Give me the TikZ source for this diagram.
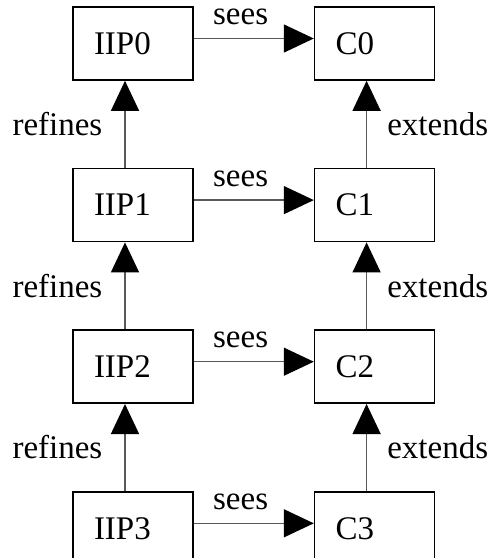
\documentclass[tikz,border=0pt]{standalone}
\usepackage{fontspec}
\setmainfont{Liberation Serif}
\usetikzlibrary{positioning,arrows.meta}

\begin{document}
\begin{tikzpicture}
  [
    x=1pt,y=1pt,
    font=\fontsize{33}{38}\selectfont,
    box/.style={draw, line width=1.6pt, text width=78pt, align=left, inner xsep=21pt, inner ysep=0pt, minimum height=73pt},
    rel/.style={line width=1.4pt, black!65, -{Triangle[length=30pt,width=28pt,black]}},
    lab/.style={inner sep=0pt, text=black},
    node distance=87pt and 120pt
  ]
  \useasboundingbox (0,0) rectangle (488,-558);

  % left column
  \node[box] at (133,-43.5) (iip0) {IIP0};
  \node[box,below=of iip0] (iip1) {IIP1};
  \node[box,below=of iip1] (iip2) {IIP2};
  \node[box,below=of iip2] (iip3) {IIP3};

  % right column
  \node[box,right=of iip0] (c0) {C0};
  \node[box,right=of iip1] (c1) {C1};
  \node[box,right=of iip2] (c2) {C2};
  \node[box,right=of iip3] (c3) {C3};

  % sees
  \draw[rel] ([yshift=5pt]iip0.east) -- node[lab,above=13pt,pos=0.39] {sees} ([yshift=5pt]c0.west);
  \draw[rel] ([yshift=5pt]iip1.east) -- node[lab,above=13pt,pos=0.39] {sees} ([yshift=5pt]c1.west);
  \draw[rel] ([yshift=5pt]iip2.east) -- node[lab,above=13pt,pos=0.39] {sees} ([yshift=5pt]c2.west);
  \draw[rel] ([yshift=5pt]iip3.east) -- node[lab,above=13pt,pos=0.39] {sees} ([yshift=5pt]c3.west);

  % refines
  \draw[rel] ([xshift=-8pt]iip1.north) -- node[lab,left=22pt] {refines} ([xshift=-8pt]iip0.south);
  \draw[rel] ([xshift=-8pt]iip2.north) -- node[lab,left=22pt] {refines} ([xshift=-8pt]iip1.south);
  \draw[rel] ([xshift=-8pt]iip3.north) -- node[lab,left=22pt] {refines} ([xshift=-8pt]iip2.south);

  % extends
  \draw[rel] ([xshift=-8pt]c1.north) -- node[lab,right=20pt] {extends} ([xshift=-8pt]c0.south);
  \draw[rel] ([xshift=-8pt]c2.north) -- node[lab,right=20pt] {extends} ([xshift=-8pt]c1.south);
  \draw[rel] ([xshift=-8pt]c3.north) -- node[lab,right=20pt] {extends} ([xshift=-8pt]c2.south);
\end{tikzpicture}
\end{document}
